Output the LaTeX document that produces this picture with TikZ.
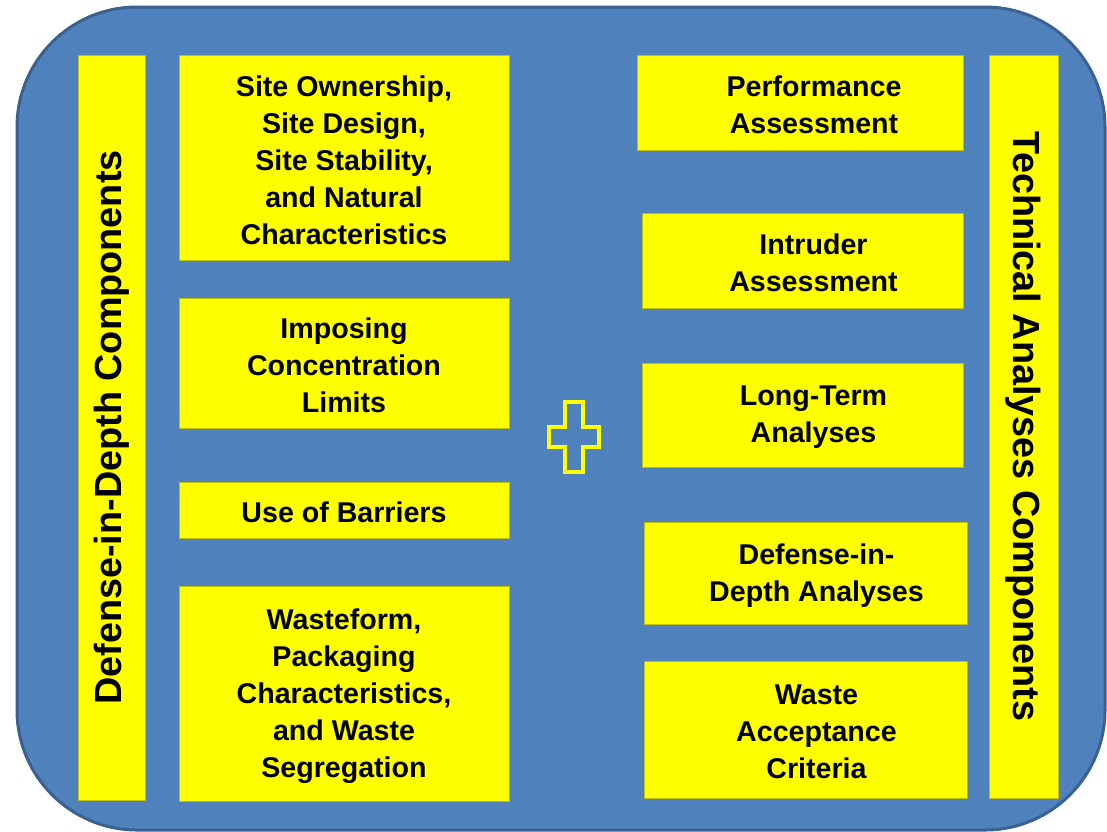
\documentclass[tikz,border=0pt]{standalone}
\usepackage{fontspec}
\setmainfont{Liberation Sans}
\definecolor{panelblue}{HTML}{4F81BD}
\definecolor{rimblue}{HTML}{3A6190}
\definecolor{boxyellow}{HTML}{FFFF00}
\begin{document}
\begin{tikzpicture}[x=0.5pt,y=-0.5pt,
  box/.style={fill=boxyellow,draw=boxyellow!75!black,line width=0.3pt,inner sep=0pt},
  txt/.style={inner sep=0pt,align=center,font=\fontsize{14.3}{18.5}\selectfont\bfseries},
  bar/.style={box,font=\fontsize{18.9}{22}\selectfont\bfseries}]
  \useasboundingbox (0,0) rectangle (1107,831);
  \draw[rimblue,fill=panelblue,line width=1.5pt,rounded corners=60pt] (17,7) rectangle (1105,830);
  \node[bar,rotate=90,minimum width=372.5pt,minimum height=33.5pt] (didbar) at (111.5,427.5) {Defense-in-Depth Components};
  \node[bar,rotate=-90,minimum width=371.5pt,minimum height=34.5pt] (techbar) at (1023.5,426.5) {Technical Analyses Components};
  \node[box,minimum width=165pt,minimum height=102.5pt] (site) at (344,157.5) {};
  \node[box,minimum width=165pt,minimum height=65pt] (limits) at (344,363) {};
  \node[box,minimum width=165pt,minimum height=28pt] (barriers) at (344,510) {};
  \node[box,minimum width=165pt,minimum height=107.5pt] (wasteform) at (344,693.5) {};
  \node[box,minimum width=163pt,minimum height=47.5pt] (perf) at (800,102.5) {};
  \node[box,minimum width=160.5pt,minimum height=47.5pt] (intruder) at (802.5,260.5) {};
  \node[box,minimum width=160.5pt,minimum height=52pt] (longterm) at (802.5,415) {};
  \node[box,minimum width=161.5pt,minimum height=51pt] (didanal) at (805.5,573) {};
  \node[box,minimum width=161.5pt,minimum height=68.5pt] (wac) at (805.5,729.5) {};
  \node[txt] (sitetxt) at ([yshift=-1.25pt]site.center) {Site Ownership,\\Site Design,\\Site Stability,\\and Natural\\Characteristics};
  \node[txt] (limitstxt) at ([yshift=-1.25pt]limits.center) {Imposing\\Concentration\\Limits};
  \node[txt] (barrierstxt) at ([yshift=-1.25pt]barriers.center) {Use of Barriers};
  \node[txt] (wasteformtxt) at ([yshift=-1.25pt]wasteform.center) {Wasteform,\\Packaging\\Characteristics,\\and Waste\\Segregation};
  \node[txt] (perftxt) at ([xshift=7pt,yshift=-1.25pt]perf.center) {Performance\\Assessment};
  \node[txt] (intrudertxt) at ([xshift=5.5pt,yshift=-1.25pt]intruder.center) {Intruder\\Assessment};
  \node[txt] (longtermtxt) at ([xshift=5.5pt,yshift=-1.25pt]longterm.center) {Long-Term\\Analyses};
  \node[txt] (didanaltxt) at ([xshift=5.5pt,yshift=-1.25pt]didanal.center) {Defense-in-\\Depth Analyses};
  \node[txt] (wactxt) at ([xshift=5.5pt,yshift=-1.25pt]wac.center) {Waste\\Acceptance\\Criteria};
  \draw[boxyellow,line width=1.8pt] (565,402)--(583,402)--(583,427)--(599,427)--(599,447)--(583,447)
    --(583,472)--(565,472)--(565,447)--(549,447)--(549,427)--(565,427)--cycle;
\end{tikzpicture}
\end{document}
